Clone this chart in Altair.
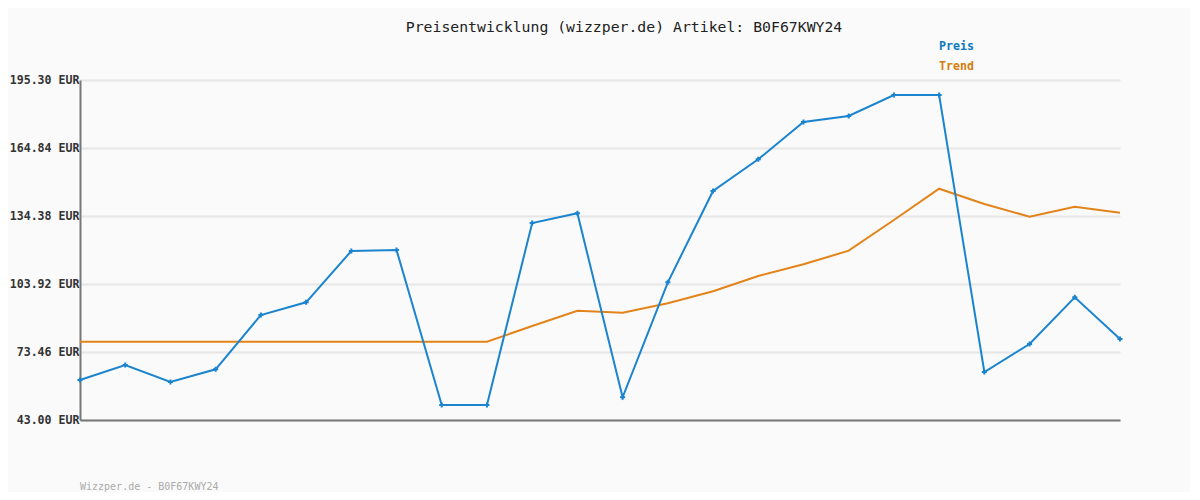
import altair as alt
import pandas as pd

# --- data ---
idx = list(range(24))
preis = [60.92, 67.64, 60.02, 65.71, 90.03, 95.72, 118.70, 119.15, 49.72, 49.72,
         131.24, 135.59, 53.17, 104.68, 145.58, 159.78, 176.49, 179.17, 188.58, 188.58,
         64.50, 77.04, 97.96, 79.28]
trend = [78.07, 78.07, 78.07, 78.07, 78.07, 78.07, 78.07, 78.07, 78.07, 78.07,
         85.11, 91.96, 91.06, 95.27, 100.65, 107.50, 112.74, 118.84, 132.59, 146.61,
         139.75, 134.07, 138.55, 135.86]
y_ticks = [43.00, 73.46, 103.92, 134.38, 164.84, 195.30]
series_names = ["Preis", "Trend"]
title_text = "Preisentwicklung (wizzper.de) Artikel: B0F67KWY24"
footer_text = "Wizzper.de - B0F67KWY24"

FONT = "DejaVu Sans Mono"
BLUE = "#1b84cf"
ORANGE = "#e3841a"

df = pd.DataFrame({
    "i": idx * 2,
    "v": preis + trend,
    "s": ["Preis"] * len(idx) + ["Trend"] * len(idx),
})

W, H = 1040, 340

x = alt.X("i:Q", scale=alt.Scale(domain=[0, 23], nice=False, zero=False),
          axis=alt.Axis(labels=False, ticks=False, grid=False, title=None,
                        domainColor="#777777", domainWidth=2))
y = alt.Y("v:Q", scale=alt.Scale(domain=[43, 195.3], nice=False, zero=False),
          axis=alt.Axis(values=y_ticks, format=".2f", labelExpr="datum.label + ' EUR'",
                        title=None, ticks=False, labelPadding=1,
                        labelFont=FONT, labelFontSize=11.6, labelFontWeight="bold",
                        labelColor="#333333", gridColor="#e6e6e6", gridWidth=2,
                        domainColor="#777777", domainWidth=2))
color = alt.Color("s:N", scale=alt.Scale(domain=series_names, range=[BLUE, ORANGE]),
                  legend=None)

trend_line = alt.Chart(df).transform_filter("datum.s == 'Trend'").mark_line(
    strokeWidth=2).encode(x=x, y=y, color=color)
preis_line = alt.Chart(df).transform_filter("datum.s == 'Preis'").mark_line(
    strokeWidth=2,
    point=alt.OverlayMarkDef(shape="cross", size=26, filled=True, color="#0a78c2")
).encode(x=x, y=y, color=color)

base_txt = alt.Chart(pd.DataFrame({"t": [0]}))
title = base_txt.mark_text(font=FONT, fontSize=14.8, color="#222222", align="center",
                           baseline="middle").encode(
    x=alt.value(544), y=alt.value(-52), text=alt.value(title_text))
leg1 = base_txt.mark_text(font=FONT, fontSize=11.6, fontWeight="bold", color="#0a78c2",
                          align="left", baseline="middle").encode(
    x=alt.value(859), y=alt.value(-33), text=alt.value(series_names[0]))
leg2 = base_txt.mark_text(font=FONT, fontSize=11.6, fontWeight="bold", color="#d67a0a",
                          align="left", baseline="middle").encode(
    x=alt.value(859), y=alt.value(-13), text=alt.value(series_names[1]))
footer = base_txt.mark_text(font=FONT, fontSize=10, color="#aaaaaa", align="left",
                            baseline="middle").encode(
    x=alt.value(0), y=alt.value(407), text=alt.value(footer_text))

chart = alt.layer(trend_line, preis_line, title, leg1, leg2, footer).properties(
    width=W, height=H,
    background="#fafafa",
    autosize=alt.AutoSizeParams(type="none"),
    padding={"left": 72, "top": 72, "right": 70, "bottom": 72},
).configure_view(stroke=None)

chart.save("out.html", embed_options={"renderer": "svg", "actions": False})
